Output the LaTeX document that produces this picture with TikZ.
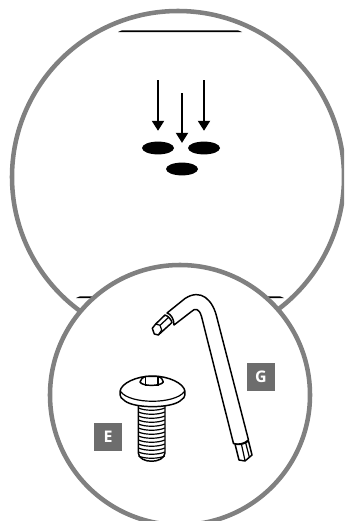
\documentclass[tikz,border=0pt]{standalone}
\usepackage{fontspec}
\setsansfont{Open Sans}
\usepackage{tikz}
\usetikzlibrary{arrows.meta,shapes.geometric}
\definecolor{RingGray}{HTML}{808080}
\definecolor{TagGray}{HTML}{6D6D6D}

\begin{document}
\begin{tikzpicture}[x=0.75pt,y=-0.75pt,
ring/.style={draw=RingGray,line width=3.4pt,fill=white},
hole/.style={ellipse,fill=black,minimum width=24pt,minimum height=9.6pt,inner sep=0pt},
arr/.style={-{Triangle[length=7.5pt,width=9pt]},line width=1.5pt,draw=black},
tag/.style={fill=TagGray,text=white,minimum size=21pt,inner sep=0pt,font=\sffamily\bfseries\fontsize{12}{14}\selectfont},
part/.style={draw=black,line width=1.1pt,line join=round,fill=white},
thin/.style={draw=black,line width=0.9pt}
]
\useasboundingbox (0,0) rectangle (344,521);
\clip (0,0) rectangle (344,521);
% large view
\draw[ring] (178,177) circle[radius=166];
\fill (118,32) -- (122,30.3) -- (238,30.3) -- (242,32) -- cycle;
\fill (76,298) -- (80,296.3) -- (280,296.3) -- (284,298) -- cycle;
\node[hole] (holeA) at (158,148) {};
\node[hole] (holeB) at (204,148) {};
\node[hole] (holeC) at (182,169) {};
\coordinate (startA) at (158,80);
\coordinate (startB) at (204,80);
\coordinate (startC) at (182,93);
\draw[arr,shorten >=7.9pt] (startA) -- (holeA.north);
\draw[arr,shorten >=7.9pt] (startB) -- (holeB.north);
\draw[arr,shorten >=14.6pt] (startC) -- (holeC.north);
% small view
\draw[ring] (180,395) circle[radius=130];
% hex key
\draw[part] (167,313) -- (185,298.5) .. controls (201,288) and (213,300) .. (217,318)
  -- (248.5,440) .. controls (244,444) and (238,445) .. (233.5,443.5) -- (201.5,316.5)
  .. controls (199,308) and (195,308) .. (191.5,311.5) -- (174,325)
  .. controls (174,319) and (171,314) .. (167,313) -- cycle;
\draw[part] (165,315) -- (155.7,324) -- (152.3,328.3) -- (154.3,334) -- (158.3,335)
  -- (172,322.5) .. controls (171,319) and (168,316) .. (165,315) -- cycle;
\draw[thin] (155.7,324) -- (160,325.3) -- (161.7,330) -- (158.3,335);
\draw[thin] (160,325.3) -- (169,317);
% hex key, short tip
\draw[part] (235,444) -- (239,460) -- (245,461) -- (252,455) -- (248.5,441)
  .. controls (244,444.5) and (239,445) .. (235,444) -- cycle;
\draw[thin] (241.5,444.5) -- (245,460.5);
\draw[thin] (245.7,443) -- (249.3,457);
% bolt
\draw[part] (138.3,400) -- (138.3,453) .. controls (139,464) and (164,464) .. (165,453) -- (165,400) -- cycle;
\foreach \yy in {408,412,...,456}{
  \draw[thin] (138.5,\yy) .. controls (145,\yy+3) and (158,\yy+3) .. (164.8,\yy);
}
\draw[part] (120,391.5) .. controls (121,383) and (137,376) .. (152.5,376)
  .. controls (168,376) and (184,383) .. (185,391.5)
  .. controls (185.5,397) and (183,399.5) .. (180,401)
  .. controls (170,408.5) and (135,408.5) .. (125,401)
  .. controls (122,399.5) and (119.5,397) .. (120,391.5) -- cycle;
\draw[thin] (120.5,391.5) .. controls (130,404.5) and (175,404.5) .. (184.5,391.5);
\draw[part] (140,382) .. controls (142,377) and (145,376.5) .. (146,376.5) -- (158,376.5)
  .. controls (160,376.5) and (162,378) .. (163.3,382)
  .. controls (161,386.5) and (142,386.5) .. (140,382) -- cycle;
\draw[thin] (145.5,377) -- (145.5,385.5) -- (158,385.5) -- (158,377);
% labels
\node[tag] (tagG) at (261,377) {G};
\node[tag] (tagE) at (108,437) {E};
\end{tikzpicture}
\end{document}
